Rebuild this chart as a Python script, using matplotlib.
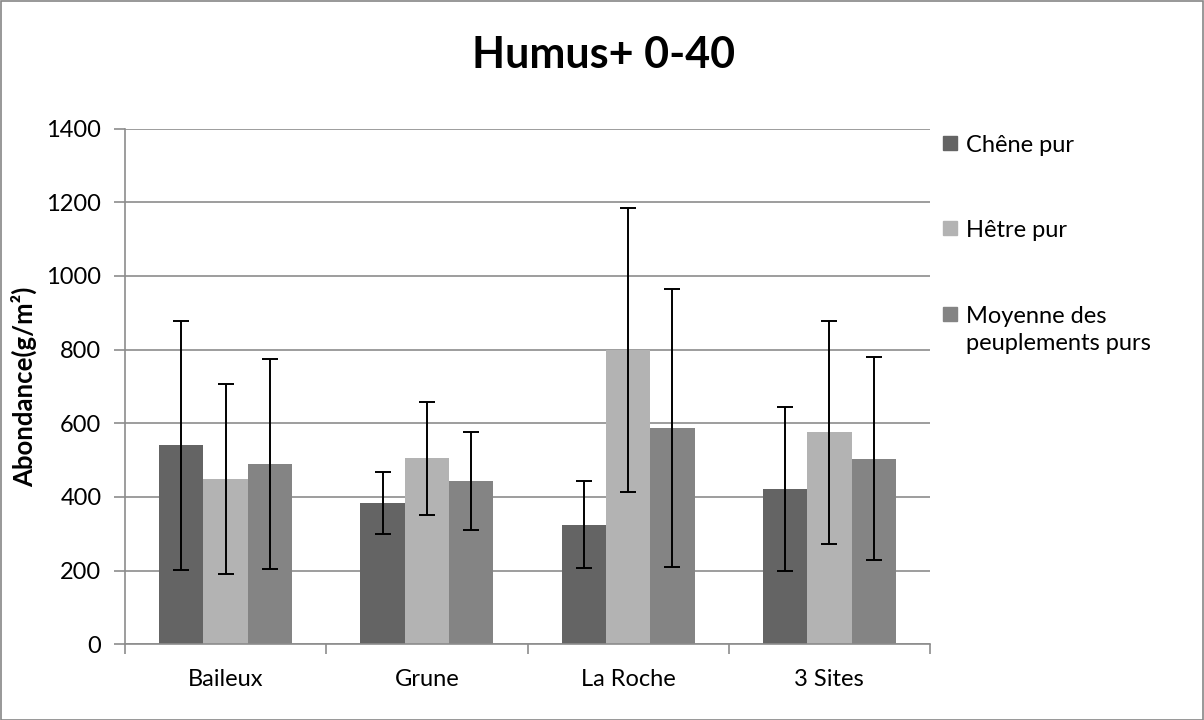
import matplotlib.pyplot as plt
from matplotlib.patches import Rectangle
import numpy as np

plt.rcParams['font.family'] = ['Lato', 'DejaVu Sans']

sites = ['Baileux', 'Grune', 'La Roche', '3 Sites']
series = ['Chêne pur', 'Hêtre pur', 'Moyenne des\npeuplements purs']
chene = [540, 383, 324, 422]
hetre = [449, 505, 798, 575]
moyenne = [490, 443, 588, 504]
err_chene = [337, 84, 118, 222]
err_hetre = [257, 153, 385, 303]
err_moyenne = [285, 133, 377, 275]
colors = ['#646464', '#b3b3b3', '#848484']

W, H = 1204, 720
fig = plt.figure(figsize=(W / 100, H / 100), dpi=100)
ax = fig.add_axes([125 / W, 75.7 / H, (930 - 125) / W, (644.3 - 128.5) / H])

x = np.arange(len(sites))
bw = 0.22
values = [chene, hetre, moyenne]
errors = [err_chene, err_hetre, err_moyenne]
for i in range(3):
    ax.bar(x + (i - 1) * bw, values[i], bw, color=colors[i], zorder=2)
    ax.errorbar(x + (i - 1) * bw, values[i], yerr=errors[i], fmt='none',
                ecolor='black', elinewidth=1.4, capsize=6, capthick=1.4, zorder=3)

ax.set_xlim(-0.5, len(sites) - 0.5)
ax.set_ylim(0, 1400)
ax.set_yticks(range(0, 1401, 200))
ax.yaxis.grid(True, color='#8c8c8c', linewidth=1.2, zorder=0)
ax.set_axisbelow(True)

ax.set_xticks(x)
ax.set_xticklabels(sites, fontsize=17)
ax.set_xticks(np.arange(-0.5, len(sites)), minor=True)
ax.tick_params(axis='x', which='major', length=0, pad=18)
ax.tick_params(axis='x', which='minor', length=7, color='#8c8c8c', width=1.2)
ax.tick_params(axis='y', length=8, color='#8c8c8c', width=1.2, labelsize=17, pad=9)

for s in ['top', 'right']:
    ax.spines[s].set_visible(False)
for s in ['left', 'bottom']:
    ax.spines[s].set_color('#8c8c8c')
    ax.spines[s].set_linewidth(1.2)

fig.text(604 / W, 1 - 68 / H, 'Humus+ 0-40', ha='center', va='baseline',
         fontsize=31, fontweight='bold')
fig.text(24 / W, 1 - 387 / H, 'Abondance(g/m²)', rotation=90, ha='center',
         va='center', fontsize=18.5, fontweight='bold')

# legend drawn by hand
baselines = [152, 237, 323]
for i, name in enumerate(series):
    b = baselines[i]
    fig.patches.append(Rectangle((943 / W, 1 - (b - 2) / H), 14 / W, 14 / H,
                                 transform=fig.transFigure, color=colors[i]))
    fig.text(966 / W, 1 - b / H, name.split('\n')[0], fontsize=17, va='baseline')
    if '\n' in name:
        fig.text(966 / W, 1 - (b + 27) / H, name.split('\n')[1], fontsize=17,
                 va='baseline')

fig.patches.append(Rectangle((0.5 / W, 0.5 / H), (W - 1.5) / W, (H - 1.5) / H,
                             transform=fig.transFigure, fill=False,
                             edgecolor='#868686', linewidth=1.2))

fig.savefig('out.png', dpi=100)
